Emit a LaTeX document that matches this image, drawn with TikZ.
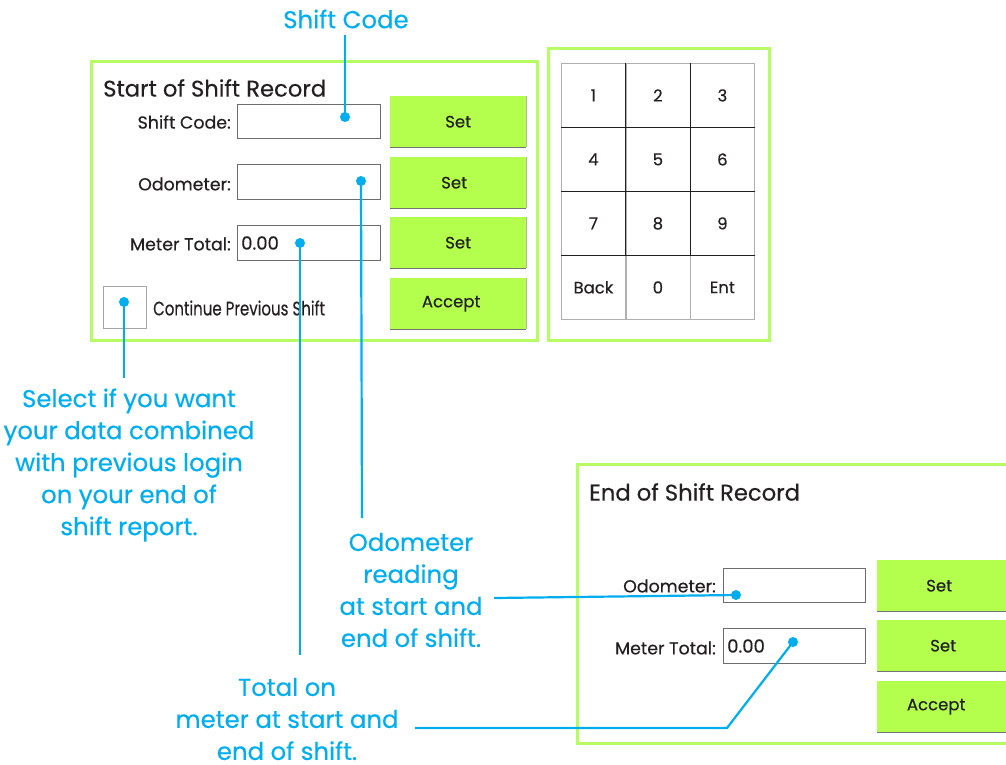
\documentclass[tikz,border=0pt]{standalone}
\usepackage{fontspec}
\setmainfont{Poppins}[FakeBold=0.35]
\newfontfamily\condfont{Poppins}[FakeStretch=0.77,FakeBold=0.3]
\definecolor{lime}{RGB}{180,255,78}
\definecolor{frame}{RGB}{182,252,98}
\definecolor{callout}{RGB}{0,174,239}
\definecolor{ink}{RGB}{35,31,32}
\definecolor{cellgray}{RGB}{175,175,175}
\begin{document}
\begin{tikzpicture}[x=1pt,y=-1pt,
  panel/.style={draw=frame,line width=3pt,inner sep=0pt,anchor=north west},
  field/.style={draw=gray!85!black,line width=0.8pt,fill=white,inner sep=0pt,anchor=north west},
  btn/.style={fill=lime,inner sep=0pt,anchor=north west,font=\fontsize{16.5}{16.5}\selectfont,text=ink},
  key/.style={draw=cellgray,line width=0.8pt,inner sep=0pt,anchor=north west,font=\fontsize{16.5}{16.5}\selectfont,text=ink},
  lbl/.style={anchor=east,inner sep=0pt,text=ink,font=\fontsize{17.4}{17.4}\selectfont},
  val/.style={anchor=west,inner sep=0pt,text=ink,font=\fontsize{18}{18}\selectfont},
  title/.style={anchor=west,inner sep=0pt,text=ink,font=\fontsize{22.7}{22.7}\selectfont},
  note/.style={text=callout,align=center,inner sep=0pt,font=\fontsize{24.4}{32}\selectfont},
  lead/.style={draw=callout,line width=2.2pt},
  dot/.style={circle,fill=callout,inner sep=0pt,minimum size=10pt}]
\useasboundingbox (0,0) rectangle (1006,764);

% ---------- Start of shift panel ----------
\node[panel,minimum width=446pt,minimum height=279pt] (startpanel) at (90,60) {};
\node[title] (starttitle) at (103,88) {Start of Shift Record};

\node[field,minimum width=143pt,minimum height=34pt] (scfield) at (237,104) {};
\node[field,minimum width=143pt,minimum height=35pt] (odofield) at (237,164) {};
\node[field,minimum width=143pt,minimum height=35pt] (mtfield) at (237,225) {};
\node[val] (mtval) at (241,243) {0.00};

\node[lbl] (sclbl) at (231,122) {Shift Code:};
\node[lbl] (odolbl) at (231,184) {Odometer:};
\node[lbl] (mtlbl) at (231,244) {Meter Total:};

\node[field,draw=gray!70,minimum width=43pt,minimum height=42pt] (cbox) at (103,286) {};
\node[anchor=west,inner sep=0pt,text=ink,font=\condfont\fontsize{19.5}{19.5}\selectfont] (cblbl) at (153,308) {Continue Previous Shift};

\foreach \n/\y/\s/\t in {b1/96/0/Set,b2/157/-8/Set,b3/217/0/Set,b4/278/-14/Accept}{
  \node[btn,minimum width=136pt,minimum height=51pt] (\n) at (390,\y) {\hspace*{\s pt}\t};
  \draw[gray!60,line width=0.8pt] (\n.north east) -- (\n.south east);
  \draw[gray!90!black,line width=1pt] (\n.south west) -- (\n.south east);
}

% ---------- Keypad panel ----------
\node[panel,minimum width=221pt,minimum height=292pt] (padpanel) at (547,47) {};
\foreach \t [count=\i from 0] in {1,2,3,4,5,6,7,8,9,Back,0,Ent}{
  \pgfmathtruncatemacro\c{mod(\i,3)}
  \pgfmathtruncatemacro\r{div(\i,3)}
  \node[key,minimum width=64pt,minimum height=64pt] (k\i) at (561+64.5*\c,63+64*\r) {\t};
}
\draw[ink,line width=1pt] (k0.north east) -- (k6.south east) (k1.north east) -- (k7.south east)
  (k0.south west) -- (k2.south east) (k3.south west) -- (k5.south east) (k6.south west) -- (k8.south east);

% ---------- End of shift panel ----------
\node[panel,minimum width=440pt,minimum height=279pt] (endpanel) at (576,463) {};
\node[title] (endtitle) at (589,492) {End of Shift Record};
\node[field,minimum width=142pt,minimum height=34pt] (eodofield) at (723,568) {};
\node[field,minimum width=142pt,minimum height=35pt] (emtfield) at (723,628) {};
\node[val] (emtval) at (727,646) {0.00};
\node[lbl] (eodolbl) at (716,586) {Odometer:};
\node[lbl] (emtlbl) at (716,648) {Meter Total:};
\foreach \n/\y/\s/\t in {e1/560/-12/Set,e2/620/-4/Set,e3/681/-18/Accept}{
  \node[btn,minimum width=136pt,minimum height=51pt] (\n) at (877,\y) {\hspace*{\s pt}\t};
  \draw[gray!90!black,line width=1pt] (\n.south west) -- (\n.south east);
}

% ---------- Callouts ----------
\node[note] (scnote) at (346,19) {Shift Code};
\node[note] (cbnote) at (129,465) {Select if you want\\your data combined\\with previous login\\on your end of\\shift report.};
\node[note] (odonote) at (411,590) {Odometer\\reading\\at start and\\end of shift.};
\node[note] (mtnote) at (287,719) {Total on\\meter at start and\\end of shift.};

\node[dot] (scdot) at (345,117) {};
\node[dot] (odot) at (361,181) {};
\node[dot] (mtdot) at (300,243) {};
\node[dot] (cbdot) at (124,302) {};
\node[dot] (eodot) at (736,595) {};
\node[dot] (emtdot) at (793,642) {};

\coordinate (scend) at (345,35);
\coordinate (odoend) at (362,518);
\coordinate (mtend) at (300,655);
\coordinate (cbend) at (124,378);
\coordinate (eodoend) at (494,598);
\coordinate (emtbend) at (727,728);
\coordinate (emtend) at (415,728);

\draw[lead] (scend) -- (scdot.center);
\draw[lead] (odot.center) -- (odoend);
\draw[lead] (mtdot.center) -- (mtend);
\draw[lead] (cbdot.center) -- (cbend);
\draw[lead] (eodoend) -- (eodot.center);
\draw[lead] (emtdot.center) -- (emtbend) -- (emtend);
\end{tikzpicture}
\end{document}
